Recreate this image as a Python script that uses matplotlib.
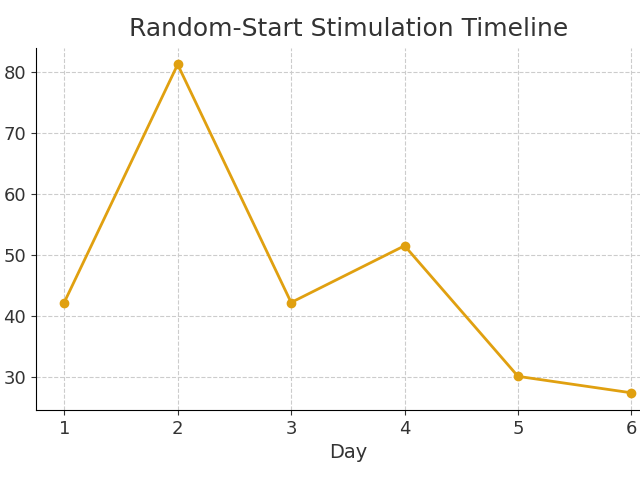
import matplotlib
matplotlib.use("Agg")
import matplotlib.pyplot as plt

days = [1, 2, 3, 4, 5, 6]
values = [42.2, 81.2, 42.2, 51.5, 30.1, 27.4]

fig = plt.figure(figsize=(6.4, 4.8), dpi=100)
ax = fig.add_axes([0.056, 0.146, 0.975, 0.754])
ax.plot(days, values, color="#E0A010", marker="o", linewidth=2, markersize=6)
ax.set_xlim(0.75, 6.25)
ax.set_ylim(24.6, 83.9)
ax.set_xticks(days)
ax.set_yticks([30, 40, 50, 60, 70, 80])
ax.grid(True, linestyle="--", color="#cccccc", linewidth=0.8)
ax.spines["top"].set_visible(False)
ax.spines["right"].set_visible(False)
ax.tick_params(labelsize=13, colors="#333333")
ax.set_xlabel("Day", fontsize=14, color="#333333")
fig.text(0.545, 0.94, "Random-Start Stimulation Timeline", ha="center", va="center", fontsize=18, color="#333333")
fig.savefig("out.png", dpi=100)
